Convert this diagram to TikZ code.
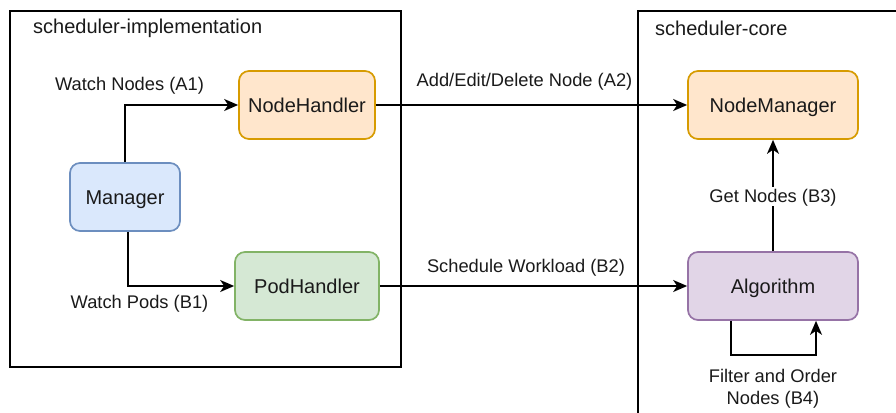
\documentclass[tikz,border=0pt]{standalone}
\usepackage{fontspec}
\setmainfont{Liberation Sans}
\usetikzlibrary{arrows.meta,calc}

\definecolor{blueFill}{HTML}{DAE8FC}\definecolor{blueLine}{HTML}{6C8EBF}
\definecolor{orangeFill}{HTML}{FFE6CC}\definecolor{orangeLine}{HTML}{D79B00}
\definecolor{greenFill}{HTML}{D5E8D4}\definecolor{greenLine}{HTML}{82B366}
\definecolor{purpleFill}{HTML}{E1D5E7}\definecolor{purpleLine}{HTML}{9673A6}
\definecolor{ink}{HTML}{1A1A1A}

\tikzset{
  container/.style={draw=black, line width=1.7pt},
  boxtitle/.style={anchor=west, inner sep=0pt, font=\fontsize{20}{24}\selectfont, text=ink},
  block/.style={draw, rounded corners=10pt, line width=1.7pt, minimum height=68pt,
                font=\fontsize{20}{24}\selectfont, text=ink, inner sep=0pt,
                text height=15pt, text depth=0pt},
  flow/.style={line width=1.7pt, -{Stealth[length=14pt,width=12pt,inset=4pt]}},
  lbl/.style={font=\fontsize{18.3}{22}\selectfont, text=ink, inner sep=1pt, align=center},
  onelbl/.style={lbl, text height=13pt, text depth=0pt}
}

\begin{document}
\begin{tikzpicture}[x=1pt,y=-1pt]
  \clip (0,0) rectangle (896,412);
  \fill[white] (0,0) rectangle (896,412);

  % containers
  \draw[container] (10,11) rectangle (401,367);
  \draw[container] (638,430) -- (638,11) -- (910,11);
  \node[boxtitle] (implTitle) at (33,28) {scheduler-implementation};
  \node[boxtitle] (coreTitle) at (655,28) {scheduler-core};

  % blocks
  \node[block, fill=blueFill, draw=blueLine, minimum width=110pt] (mgr) at (125,197) {Manager};
  \node[block, fill=orangeFill, draw=orangeLine, minimum width=136pt] (nh) at (307,105) {NodeHandler};
  \node[block, fill=greenFill, draw=greenLine, minimum width=144pt] (ph) at (307,286) {PodHandler};
  \node[block, fill=orangeFill, draw=orangeLine, minimum width=170pt] (nm) at (773,105) {NodeManager};
  \node[block, fill=purpleFill, draw=purpleLine, minimum width=170pt] (alg) at (773,286) {Algorithm};

  % connectors
  \draw[flow] (mgr.north) |- (nh.west);
  \draw[flow] ([xshift=3pt]mgr.south) |- (ph.west);
  \draw[flow] (nh.east) -- (nm.west);
  \draw[flow] (ph.east) -- (alg.west);
  \draw[flow] (alg.north) -- (nm.south);
  \coordinate (loopL) at ($(alg.south)+(-42,34)$);
  \coordinate (loopR) at ($(alg.south)+(43,34)$);
  \draw[flow] ([xshift=-42pt]alg.south) -- (loopL) -- (loopR) -- ([xshift=43pt]alg.south);

  % labels
  \node[onelbl] (lA1) at (129.5,83.5) {Watch Nodes (A1)};
  \node[onelbl] (lB1) at (139.5,301.5) {Watch Pods (B1)};
  \node[onelbl] (lA2) at (524.5,80) {Add/Edit/Delete Node (A2)};
  \node[onelbl] (lB2) at (526,266) {Schedule Workload (B2)};
  \node[onelbl, fill=white, inner sep=3pt] (lB3) at (773,196) {Get Nodes (B3)};
  \node[lbl, inner sep=0pt] (lB4) at (773,389) {Filter and Order\\Nodes (B4)};
\end{tikzpicture}
\end{document}
